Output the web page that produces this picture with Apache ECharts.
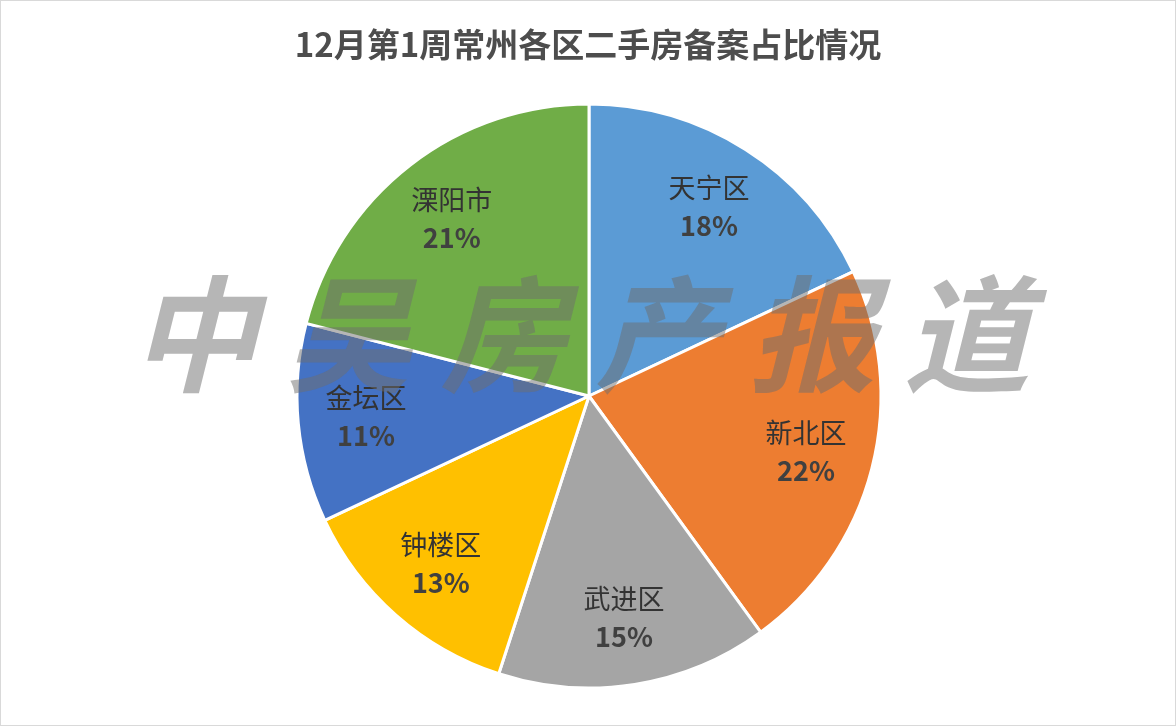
<!DOCTYPE html>
<html><head><meta charset="utf-8">
<script src="https://cdn.jsdelivr.net/npm/echarts@6/dist/echarts.min.js"></script>
<style>html,body{margin:0;padding:0;background:#fff}#c{width:1176px;height:726px;box-sizing:border-box;border:1px solid #d9d9d9}</style>
</head><body><div id="c"></div>
<script>
const categories = ['天宁区','新北区','武进区','钟楼区','金坛区','溧阳市'];
const values = [18,22,15,13,11,21];
const colors = ['#5B9BD5','#ED7D31','#A5A5A5','#FFC000','#4472C4','#70AD47'];
const chart = echarts.init(document.getElementById('c'));
const data = categories.map((n,i)=>({name:n,value:values[i]}));
chart.setOption({
  animation:false,
  color:colors,
  title:{text:'12月第1周常州各区二手房备案占比情况',left:'center',top:22,
    textStyle:{fontFamily:'Noto Sans CJK SC',fontSize:33,fontWeight:'bold',color:'#4d4d4d'}},
  graphic:[{type:'text',left:130,top:270,z:100,
    style:{text:'中 吴 房 产 报 道',fontFamily:'Noto Sans CJK SC',fontSize:126,fontWeight:'bold',fontStyle:'italic',
      fill:'rgba(110,110,110,0.5)'}}],
  series:[{type:'pie',center:[588,395],radius:[0,292],startAngle:90,clockwise:true,
    itemStyle:{borderColor:'#fff',borderWidth:3},
    label:{show:false},labelLine:{show:false},data:data},
   {type:'pie',center:[588,395],radius:[150,292],startAngle:90,clockwise:true,silent:true,z:5,
    itemStyle:{color:'rgba(0,0,0,0)'},
    label:{position:'inside',formatter:p=>'{n|'+p.name+'}\n{v|'+p.value+'%}',
      rich:{n:{fontFamily:'Noto Sans CJK SC',fontSize:27,lineHeight:38,color:'#333'},
            v:{fontFamily:'Noto Sans CJK SC',fontSize:27,lineHeight:38,fontWeight:'bold',color:'#404040'}}},
    labelLine:{show:false},data:data}]
});
</script></body></html>
